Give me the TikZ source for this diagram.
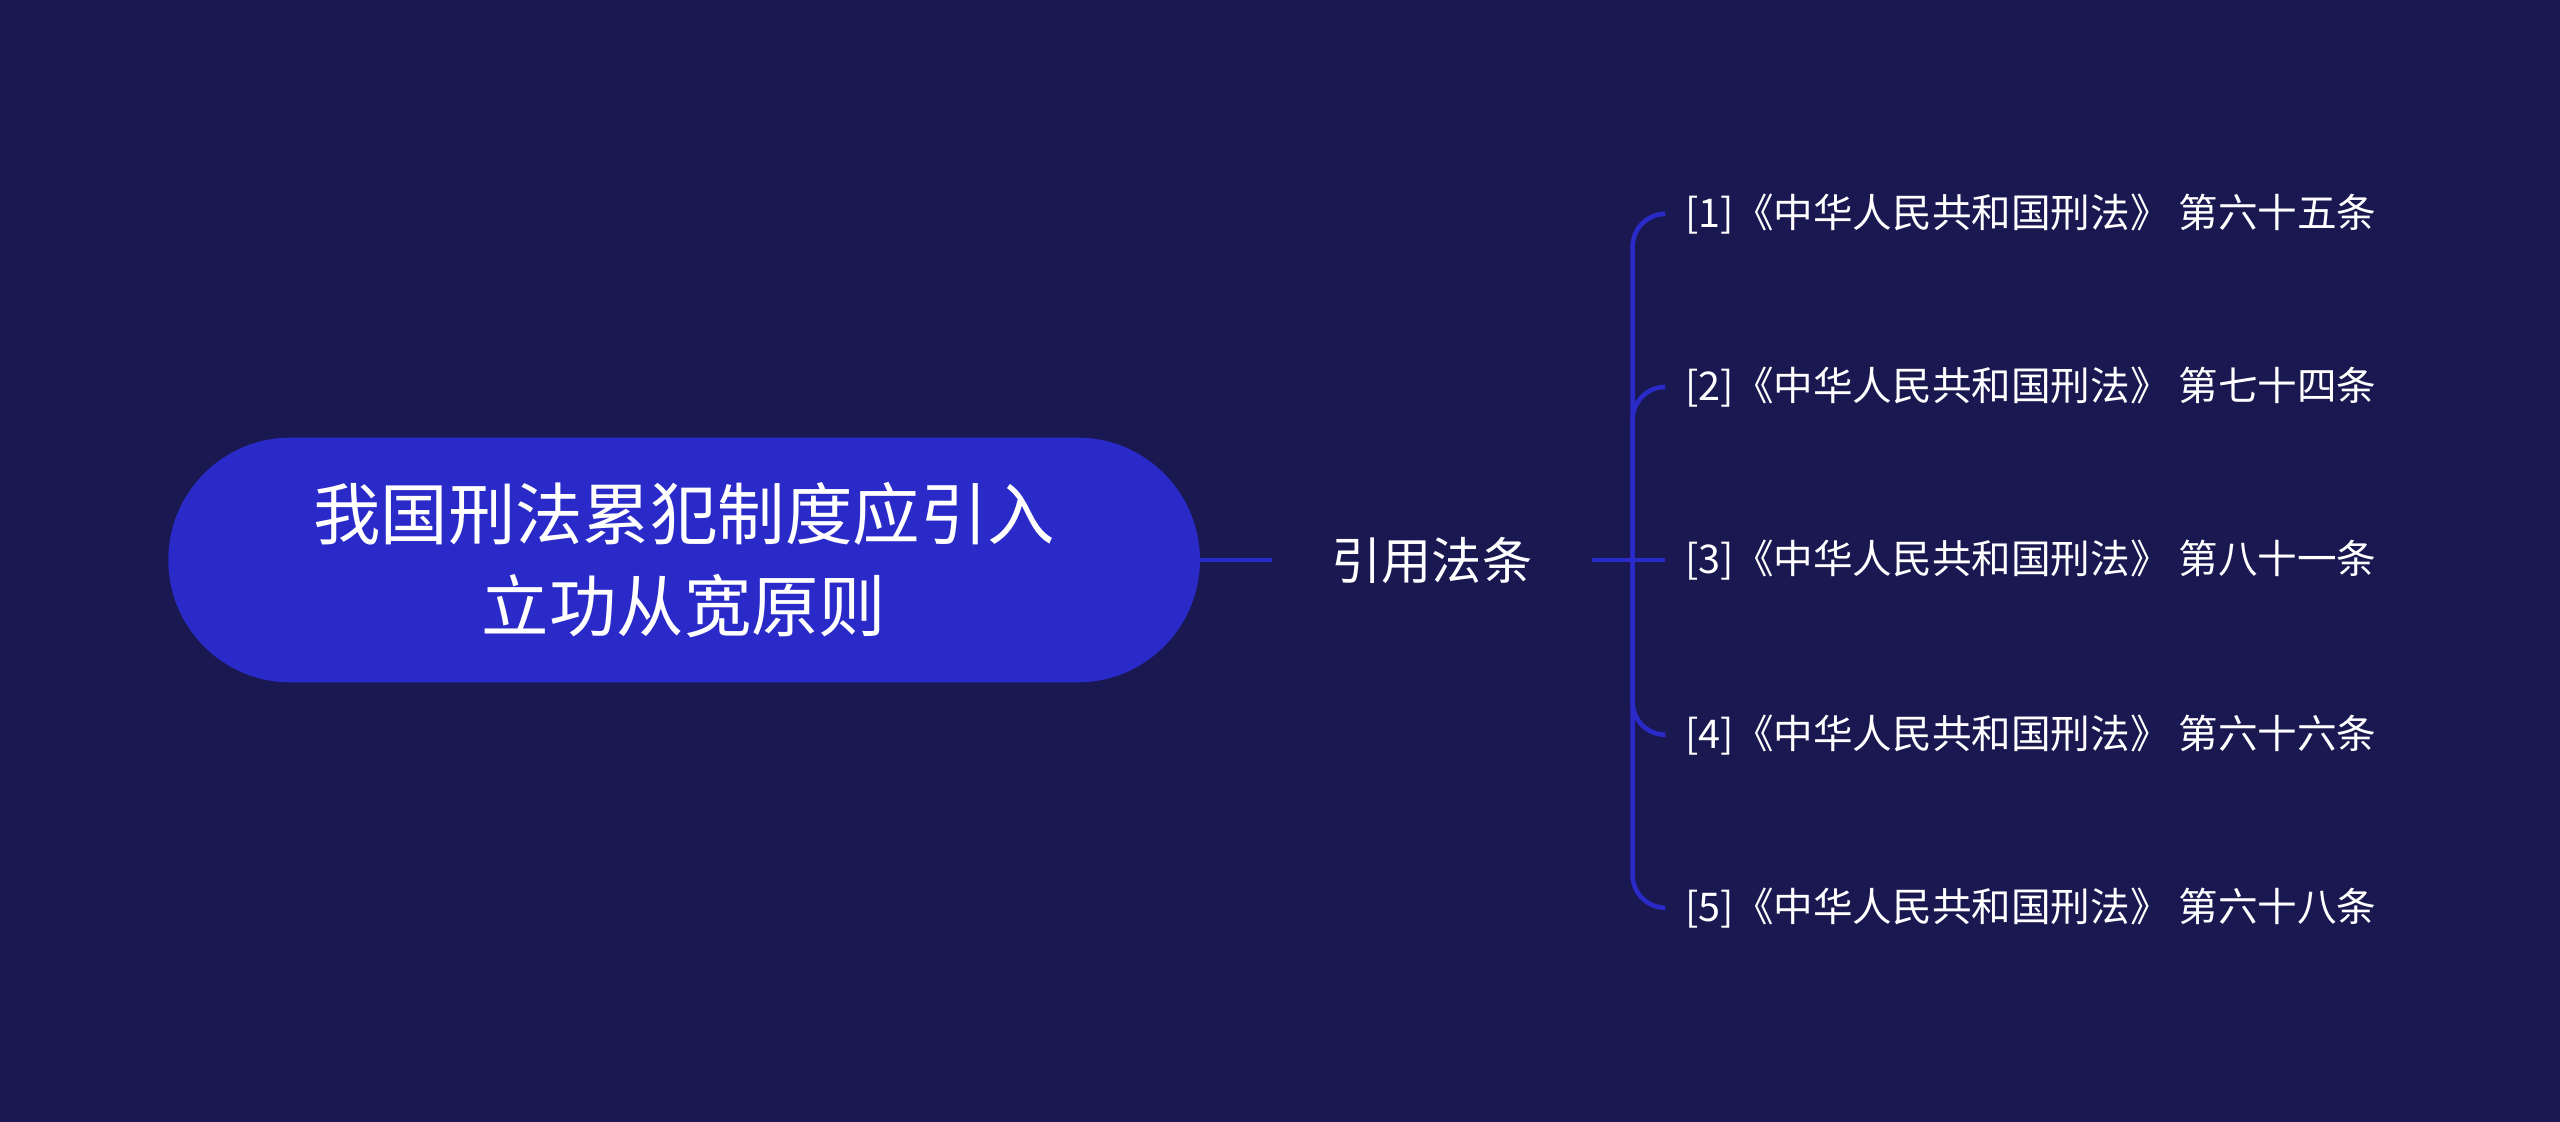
\documentclass[tikz,border=0pt]{standalone}
\usepackage{fontspec}
\setmainfont{Noto Sans CJK SC}
\definecolor{bgblue}{HTML}{1A1850}
\definecolor{rootblue}{HTML}{2A2AC8}
\begin{document}
\begin{tikzpicture}[x=0.02cm,y=-0.02cm,
    rootbox/.style={fill=rootblue,rounded corners=1.5cm,minimum width=12.64cm,minimum height=3cm,text=white,align=center,font=\fontsize{23.5}{32}\selectfont},
    midtext/.style={text=white,font=\fontsize{17.5}{20}\selectfont},
    leaftext/.style={text=white,anchor=west,inner sep=0pt,font=\fontsize{13.8}{16}\selectfont},
    link/.style={draw=rootblue,line width=1.6pt}]
    \fill[bgblue] (0,0) rectangle (1568,687);
    \useasboundingbox (0,0) rectangle (1568,687);

    \node[rootbox] (root) at (419,343) {我国刑法累犯制度应引入\\立功从宽原则};
    \node[midtext] (cite) at (877,343) {引用法条};
    \coordinate (cin) at (779,343);
    \coordinate (cout) at (975,343);
    \coordinate (fork) at (1000,343);

    \node[leaftext] (l1) at (1032,131) {[1]《中华人民共和国刑法》 第六十五条};
    \node[leaftext] (l2) at (1032,237) {[2]《中华人民共和国刑法》 第七十四条};
    \node[leaftext] (l3) at (1032,343) {[3]《中华人民共和国刑法》 第八十一条};
    \node[leaftext] (l4) at (1032,450) {[4]《中华人民共和国刑法》 第六十六条};
    \node[leaftext] (l5) at (1032,556) {[5]《中华人民共和国刑法》 第六十八条};

    \draw[link] (root.east) -- (cin);
    \draw[link] (cout) -- ([xshift=-0.24cm]l3.west);
    \foreach \leaf in {l1,l2,l4,l5}
        \draw[link,rounded corners=0.4cm] (fork) |- ([xshift=-0.24cm]\leaf.west);
\end{tikzpicture}
\end{document}
